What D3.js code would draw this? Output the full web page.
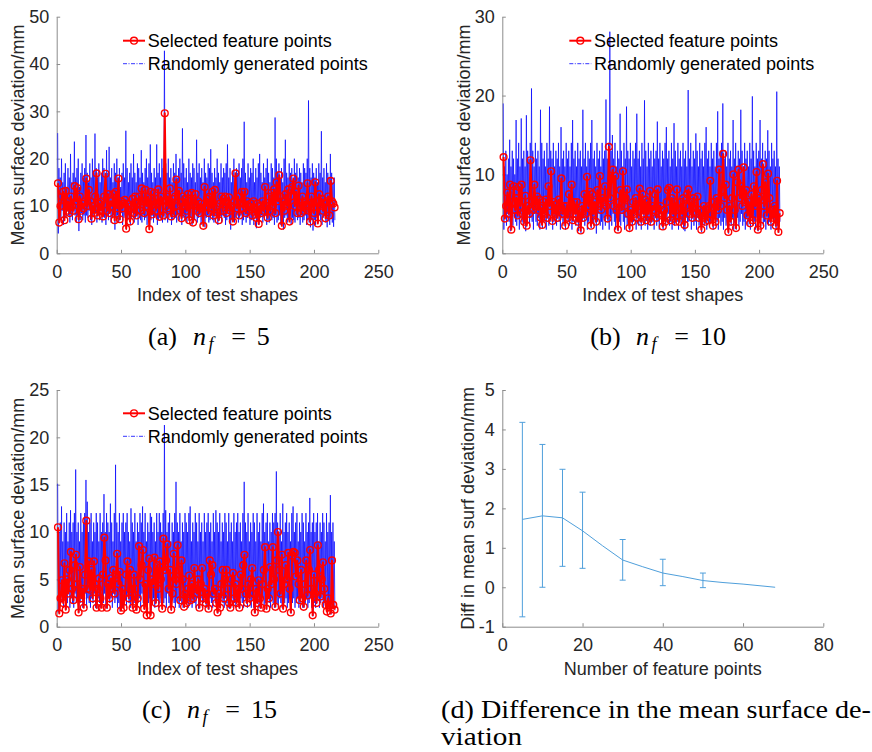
<!DOCTYPE html>
<html><head><meta charset="utf-8">
<script src="https://cdn.jsdelivr.net/npm/d3@7"></script>
<style>body{margin:0;background:#fff} svg{display:block}</style>
</head><body>
<svg id="chart" width="872" height="752"></svg>
<script>
// ---------- data ----------
const shapeTicks = [0, 50, 100, 150, 200, 250];
const yTicksA = [0, 10, 20, 30, 40, 50];
const yTicksB = [0, 10, 20, 30];
const yTicksC = [0, 5, 10, 15, 20, 25];
const yTicksD = [-1, 0, 1, 2, 3, 4, 5];
const xTicksD = [0, 20, 40, 60, 80];

const legendLabels = ["Selected feature points", "Randomly generated points"];

// (a) n_f = 5
const redA = [
14.8,6.5,10,12,13,7,13.2,9,11,8.5,12,10,9,14.2,11,13.8,7.2,12,9,10.5,
9.5,11,15.8,10,13.4,11,7.3,10,8.5,12,16.9,8,10.5,9,11,7.8,12,16.8,9,12.5,
8.5,11,10,12.5,7,13,9.5,15.8,7.2,11,9.5,10.5,11.3,5.2,10.5,9,6.7,10,11.5,8.5,
12,8,10.5,12,9,13.7,11,8.5,13.4,10,12,5.1,13,8.2,11,12.8,9,10.5,13.5,7.7,
12,11,8,29.6,10,12,9.5,13.7,7.8,11.5,8.5,12,15.6,10,13.2,9,7.4,12,10,11.5,
9,12.5,7,11,12.8,6.5,10,12.5,9,11,8.5,10.5,9.5,5.8,14,10,11.5,8.5,12,9.5,
13,8,13.4,10,8.5,7,10.5,12,9,11.5,12,8.5,10.5,11.8,9,10,6.7,11,16.9,9.5,
12,8,10.5,13,9.5,13,8.5,11,10,9,10.5,8,11,9.5,7.5,10.5,6.2,10,8.5,11,
9,14,10,7.5,12,9,12.8,10,13.5,8.5,15,11,16.5,12,5.8,11,9,12.5,10,13.5,
6.7,12,14,15.8,10,13,8.5,14.3,10,8.5,12,9,11,10,14.8,9,6.7,12,10.5,8.5,
15,11,6.3,12.5,10,11.5,9,10.5,7.4,11,12,8,15.3,11,10.5,9.7];
const blueHiA = [
25.4,18,16,20,15,17,19,14,18,16,21,15,17,23.6,16,18,20,14,17,19,
16,18,25,17,15,19,16,20,17,25.3,18,16,19,15,17,20,18,16,21.8,17,
22.5,16,18,15,19,17,20,16,18,14,17,19,16,25.9,18,15,17,19,16,21,
17,15,19,18,16,21.8,17,15,18,20,16,19,23,17,15,18,16,23,17,19,
16,20,18,42.8,19,17,20,16,18,15,19,17,21,16,18,20,17,26.4,19,16,
18,15,20,17,16,19,18,15,24,17,19,16,18,15,20,17,16,19,18,22,
17,15,18,16,20,17,15,19,16,18,17,19,23,16,18,15,17,20,16,18,
17,19,16,18,20,27.8,17,15,19,16,18,17,20,15,18,16,19,21,17,15,
19,16,18,20,17,15,19,18,16,28.7,20,17,19,16,18,15,20,24,17,16,
19,17,18,15,20,17,19,16,18,17,15,19,18,17,20,32.3,18,16,19,17,
16,18,15,19,17,25.8,16,18,15,19,17,16,21,17,15,16];
const blueLoA = [
4.2,8,7,9,6,8,7.5,9,8,6.5,8,7,9,8,6.5,8,4.7,7,8.5,7,
8,6.5,8,7.5,9,7,6,8,7.5,8.5,6.5,8,7,9,6.5,8,7.5,6,8,7,
8.5,6.5,7.5,8,5,7.5,8,6.5,7,8.5,6,7.5,8,5,7,8,6,7.5,8.5,6.5,
7.5,8,6,8.5,7,6.5,8,7,7.5,6,8,5.5,7,8,6.5,7.5,8,6,7,8.5,
7,6.5,8,7,8.5,6.5,7.5,8,6,7,8,7.5,6.5,8,7,8.5,6,7.5,8,7,
6.5,8,7,7.5,6,8,7,8.5,6.5,7.5,8,6,7,8,5.5,7.5,8,6.5,7,8,
7,6.5,8,7.5,6,7,8,6.5,8,7.5,6,7,8.5,6.5,5,7,8,6.5,7.5,8,
6.5,7.5,8,6,7,8,6.5,7.5,8,6,7,7.5,6,8,5.3,7,6,7.5,8,6.5,
7.5,8,6,7,6.5,8,7,7.5,6,8,6.5,7,8,6,7,5,7.5,8,6.5,7,
8,6,7.5,7,6.5,8,7,7.5,6,8,6.5,7,8,6,7,6.5,5.5,7,4.8,7,
6,7.5,6.5,8,7,6,7.5,8,6.5,5.5,7,6,7.5,6.5,5.6,7];

// (b) n_f = 10
const redB = [
12.2,4.4,6,7.7,5,8.7,3,6.5,8.5,5.5,7,4.8,8.4,6,8.7,5,4,7.3,3.5,6,
5,11.8,6.5,5.5,8.7,6,7.2,5.5,6.8,4.5,3.6,6.5,5,6.8,4.5,8.5,6,10.4,4.1,6.5,
5,6.2,4.5,6.8,5.5,9.5,5,6,3.5,6,4.5,7.5,5,8.7,4.2,6.5,5,6.5,4,5.5,
2.9,6,4.5,7.5,5,9.7,6,7.8,3.5,7.5,5,6.5,4,8,6,9.8,5.5,7,6.5,8.5,
6,4.4,13.5,7,9.5,10.6,6,9.8,5.5,3,6.5,8,5.5,10.4,6,7,8.1,5,3.2,5.5,
4,6.5,5,7,4.5,6,8.2,4,7.5,5,6.8,4.2,6.5,5,7.9,4,6,5.5,7.5,4.5,
8.1,5,6,4.8,3.4,5.5,4,6.5,8,8.3,4.2,7,5,6.5,4,8.1,5.5,4,6.5,5,
7,3.6,6,7.5,8.1,5,6.5,4.5,7,6,5,7.2,4.5,5.5,3,4.5,6,4,5.5,4.2,
6,9.2,5,3.5,6.5,4,7,5.5,10.6,6,8,12.6,7,8.7,5.5,2.7,6,4,7,10,
5.5,3.2,9,10.6,7,8.5,6,10.9,6.5,8,4.8,6.5,3.8,7.5,4.2,8.5,6,10.3,3,7,
3.5,8,11.3,6,9,4.8,10.1,7,4,5.5,4.5,6,3.5,9.2,2.7,5.1];
const blueHiB = [
19,11,13,10,12,14.4,11,13,12,10,16.9,12,14,11,17.1,12,13,11,17.5,13,
12,14,20.9,13,11,14,12,13,11,18.2,14,12,13,11,14,12,18.6,13,12,14,
11,13,12,14,11,16,12,13,11,14,12,13,11,14,16.9,12,13,11,14,12,
13,11,18.2,12,14,11,13,12,14,16.9,12,13,11,14,12,13,11,14,12,13,
19.5,12,14,28.1,13,15,12,14,11,13,12,17.7,13,11,14,12,18.6,13,12,14,
11,13,12,14,17.7,12,13,11,14,12,19.4,13,11,14,12,13,11,14,12,13,
16.7,12,14,11,13,12,14,16,12,13,11,14,12,16.5,13,11,14,12,13,11,
14,12,13,11,20.7,12,14,11,13,12,15.2,13,11,14,12,13,11,14,16,12,
13,11,14,12,13,11,14,18,12,13,14,19,12,13,11,14,12,13,11,16.9,
12,14,11,13,12,18.2,13,11,14,12,13,11,14,12,19.9,13,11,14,12,13,
16.9,12,14,11,13,12,15.6,13,11,14,12,13,11,20.5,12,11];
const blueLoB = [
3,4.5,3.5,5,4,2.8,4.5,3.5,5,4,3.5,4.5,3,5,4,3.5,4.5,2.8,4,5,
3.5,4.5,4,3,5,4,3.5,4.5,3,4,3.2,5,4,3,4.5,3.5,4,5,3,4,
4.5,3.5,5,4,3,4.5,3.5,4,3,5,4,3.5,4.5,3,4,5,3.5,4,2.8,4.5,
2.6,4,5,3.5,4.5,3,4,5,3.2,4,3.5,4.5,2.5,4,5,3.5,4,3,4.5,3.5,
5,4,3,4.5,3.5,5,4,3,4.5,2.8,4,3.5,5,4,3,4.5,3.5,4,2.9,4.5,
3.5,4,5,3,4.5,3.5,4,3,5,4,3.5,4.5,3,4,3.5,5,4,3,4.5,3.5,
4,3,5,3.5,3,4.5,3.5,4,5,3.5,4,3,4.5,3.5,5,4,3,4.5,3.5,4,
3,2.8,4.5,3.5,4,5,3,4.5,3.5,4,3,4.5,3.5,4,2.7,4.5,3.5,4,3,4.5,
3.5,4,5,3,4.5,3.5,4,3,4.5,3.5,4,3,4.5,3.5,4,2.5,4,3.5,4.5,3,
4,3,4.5,3.5,4,5,3.5,4,3,4.5,3.5,4,3,4.5,3.5,4,3,4.5,2.8,4,
3.2,4.5,3.5,4,3,4.5,3.5,4,3,4.5,3.5,4,3,3.5,2.6,4];

// (c) n_f = 15
const redC = [
10.5,1.4,3,4.9,2.5,6.7,1.8,5,3.5,6,7.9,4,2.8,6.5,7.6,4.5,1.5,6.3,3,4,
2,5.5,11.2,4,6.9,3.9,6,3,6.9,4.5,2,4,5.1,3,2,5.5,9.4,7,2,4.5,
3,5.1,4,6,3.5,5.5,7.7,4.5,5.8,1.7,4,2,3.5,5.5,6.9,3,6,4,2,5.5,
4,1.8,3,8.5,5,6.5,8.1,1.9,4.5,1.2,6,7.2,1.2,5,4.5,7.3,2.5,6.5,4,6.9,
5,1.9,9.3,6,7,8.7,4,6,1.8,3.5,7.7,5,4.5,8.6,6,2.8,7,5,2.1,3.5,
2.5,4,5.4,2.8,4.5,3,6.2,4,3.5,5,2,4.5,6.2,3,4,2.5,3.5,1.9,7,5.5,
6.5,3.5,4,2.5,1.5,3.5,2,4.5,6,3,5,6,4,2.5,2,5,5.7,3,4.5,2.5,
4,2,5.5,4,6.5,7.6,3.5,2.5,4.5,3,5,6.2,3.5,1.5,4,2.5,4.9,3,2,4.5,
6,8.4,1.9,4,3,6.3,4.5,8.4,5,2.1,7,10,6,3.5,7.6,1.9,4.5,6.5,5,7.8,
4,1.5,7.5,7.9,7.8,5.3,7,4.5,2.8,6,3,2.1,4.5,7,3.3,6,8.1,4,1.2,5.5,
3.5,2.5,8.6,6,3.2,5,6.8,4,2.3,1.6,3,2.2,1.4,7,2.3,1.8];
const blueHiC = [
15.1,10,11,12.7,9,11,10,12,9,11,12.3,10,11,12,16.6,10,11,9,12,10,
11,12,15.5,13.2,10,11,12,9,11,10,12,11,9,12,10,11,14,10,12,11,
10,13,11,9,12,17.1,11,10,12,9,11,12,10,11,12,10,9,12.5,11,10,
12,9,11,10,12,11,12.7,10,12,9,11,10,12,11.6,10,11,9,12,10,12,
11,10,12,21.3,12.3,10,11,12,9,11,10,12,15.3,11,10,12,9,11,10,12,
11,10,12,12.7,9,11,10,12,11,9,12,10,11,9,12,10,11,12,10,11,
9,12,10,12.3,11,10,12,9,11,10,12,11,9,12,10,11,9,12,10,11,
12,10,11,9,12,15.3,11,10,12,9,11,10,12,11,9,12,10,11,9,12,
13,10,11,12,9,11,10,12,11,12,16.4,11,10,12,9,13,10,11,12,10,
11,9,12,12.7,10,11,12,9,11,10,12,11,9,12,10,11,13.6,10,11,12,
10,11,12,9,11,10,12,11,9,12,10,11,13.9,10,11,9];
const blueLoC = [
1.5,3,2.5,3.5,2,3,1.8,2.5,3.5,2,3,2.5,2,3.5,2.5,3,1.5,2.5,3,2,
2.5,3.5,2,3,2.5,2,3,2.5,3.5,2,1.9,3,2.5,2,3,2.5,3.5,2,1.9,3,
2.5,3,2,3.5,2.5,3,2,2.5,1.6,3,2,2.5,3,2,3.5,2.5,2,3,1.9,2.5,
3,1.7,2.5,3,2,3.5,2.5,1.8,3,1.2,2.5,3,1.3,2.5,3,2,2.5,3,2,2.5,
3,1.8,2.5,3,2,3.5,2.5,2,1.7,3,2.5,2,3,2.5,2,3,2.5,2,2,3,
2.5,2,3,2.5,2,3,2.5,2,3,1.9,2.5,3,2,2.5,3,2,2.5,1.8,3,2.5,
2,3,2.5,2,1.4,2.5,2,3,2.5,2,3,2.5,2,1.9,2.5,3,2,2.5,2,3,
2.5,1.9,3,2.5,2,3,2.5,2,3,2.5,2,3,2,1.4,2.5,3,2,1.9,2.5,3,
2,2.5,1.8,3,2.5,2,3,2.5,2,3,2.5,2,3,2.5,2,1.8,2.5,3,2,2.5,
3,1.4,2.5,3,2,2.5,3,2,2.5,3,2,2,2.5,3,2,2.5,3,2,1.1,2.5,
2,2.5,3,2,2.5,3,2,2.5,2,1.5,2.5,2,1.3,2.5,2,1.7];

// (d) difference in mean surface deviation
const featureCounts = [5, 10, 15, 20, 30, 40, 50];
const diffMean  = [1.72, 1.81, 1.76, 1.43, 0.69, 0.36, 0.17];
const diffUpper = [4.18, 3.62, 2.99, 2.41, 1.21, 0.71, 0.36];
const diffLower = [-0.75, 0.0, 0.53, 0.48, 0.18, 0.04, -0.01];
const curveCounts = [5, 10, 15, 20, 25, 30, 35, 40, 45, 50, 55, 60, 68];
const curveMean   = [1.72, 1.81, 1.76, 1.43, 1.05, 0.69, 0.52, 0.36, 0.27, 0.17, 0.12, 0.08, 0.0];

// ---------- drawing ----------
const svg = d3.select("#chart");
const SANS = "'Liberation Sans', Arial, Helvetica, sans-serif";
const SERIF = "'Liberation Serif', 'Times New Roman', serif";
const AXIS_COL = "#8c8c8c", TEXT_COL = "#262626";
const RED = "#ff0000", BLUE = "#0000ff", EB = "#4f9fdb";

function axes(cfg) {
  const x = d3.scaleLinear().domain(cfg.xDomain).range([cfg.x0, cfg.x1]);
  const y = d3.scaleLinear().domain(cfg.yDomain).range([cfg.yBot, cfg.yTop]);
  const fmt = d => String(d);
  const gx = svg.append("g").attr("transform", `translate(0,${cfg.yBot})`)
    .call(d3.axisBottom(x).tickValues(cfg.xTicks).tickSize(-3.5).tickSizeOuter(0).tickPadding(11.5).tickFormat(fmt));
  const gy = svg.append("g").attr("transform", `translate(${cfg.x0},0)`)
    .call(d3.axisLeft(y).tickValues(cfg.yTicks).tickSize(-3.5).tickSizeOuter(0).tickPadding(7.5).tickFormat(fmt));
  [gx, gy].forEach(g => {
    g.attr("font-family", SANS).attr("font-size", 18);
    g.select(".domain").attr("stroke", AXIS_COL).attr("stroke-width", 1);
    g.selectAll(".tick line").attr("stroke", AXIS_COL);
    g.selectAll(".tick text").attr("fill", TEXT_COL);
  });
  svg.append("text").attr("x", (cfg.x0 + cfg.x1) / 2).attr("y", cfg.yBot + 48)
    .attr("text-anchor", "middle").attr("font-family", SANS).attr("font-size", 18)
    .attr("fill", TEXT_COL).text(cfg.xLabel);
  const cy = (cfg.yTop + cfg.yBot) / 2;
  svg.append("text").attr("transform", `translate(${cfg.ylabX},${cy}) rotate(-90)`)
    .attr("text-anchor", "middle").attr("font-family", SANS).attr("font-size", 18)
    .attr("fill", TEXT_COL).text(cfg.yLabel);
  return {x, y};
}

function scatterPanel(cfg) {
  const {x, y} = axes(cfg);
  // random points: dense line
  const pts = [];
  cfg.hi.forEach((v, i) => {
    pts.push([i + 1 - 0.25, v]);
    pts.push([i + 1 + 0.25, cfg.lo[i]]);
  });
  const line = d3.line().x(d => x(d[0])).y(d => y(d[1]));
  svg.append("path").datum(pts).attr("d", line).attr("fill", "none")
    .attr("stroke", BLUE).attr("stroke-width", 0.7);
  // selected feature points
  const rp = cfg.red.map((v, i) => [i + 1, v]);
  svg.append("path").datum(rp).attr("d", line).attr("fill", "none")
    .attr("stroke", RED).attr("stroke-width", 2).attr("stroke-linejoin", "round");
  svg.append("g").selectAll("circle").data(rp).join("circle")
    .attr("cx", d => x(d[0])).attr("cy", d => y(d[1])).attr("r", 3.4)
    .attr("fill", "none").attr("stroke", RED).attr("stroke-width", 1.4);
  // legend
  const lx = cfg.legX, ly1 = cfg.legY, ly2 = cfg.legY + 23;
  svg.append("line").attr("x1", lx).attr("x2", lx + 22).attr("y1", ly1).attr("y2", ly1)
    .attr("stroke", RED).attr("stroke-width", 2);
  svg.append("circle").attr("cx", lx + 11).attr("cy", ly1).attr("r", 3.4)
    .attr("fill", "none").attr("stroke", RED).attr("stroke-width", 1.4);
  svg.append("line").attr("x1", lx).attr("x2", lx + 22).attr("y1", ly2).attr("y2", ly2)
    .attr("stroke", BLUE).attr("stroke-width", 0.8).attr("stroke-dasharray", "4,1.5,1,1.5");
  [ly1, ly2].forEach((ly, k) => {
    svg.append("text").attr("x", lx + 24.7).attr("y", ly + 6.2)
      .attr("font-family", SANS).attr("font-size", 18).attr("fill", "#000").text(legendLabels[k]);
  });
}

const LEFT = [56.7, 378.3], RIGHT = [502.3, 823.3];
const TOP = [16.7, 253.3], BOT = [390, 626.7];

scatterPanel({x0: LEFT[0], x1: LEFT[1], yTop: TOP[0], yBot: TOP[1], xDomain: [0, 250], yDomain: [0, 50],
  xTicks: shapeTicks, yTicks: yTicksA, xLabel: "Index of test shapes", yLabel: "Mean surface deviation/mm",
  ylabX: 23.5, red: redA, hi: blueHiA, lo: blueLoA, legX: 123, legY: 40.7});
scatterPanel({x0: RIGHT[0], x1: RIGHT[1], yTop: TOP[0], yBot: TOP[1], xDomain: [0, 250], yDomain: [0, 30],
  xTicks: shapeTicks, yTicks: yTicksB, xLabel: "Index of test shapes", yLabel: "Mean surface deviation/mm",
  ylabX: 470, red: redB, hi: blueHiB, lo: blueLoB, legX: 569.3, legY: 40.7});
scatterPanel({x0: LEFT[0], x1: LEFT[1], yTop: BOT[0], yBot: BOT[1], xDomain: [0, 250], yDomain: [0, 25],
  xTicks: shapeTicks, yTicks: yTicksC, xLabel: "Index of test shapes", yLabel: "Mean surface deviation/mm",
  ylabX: 24, red: redC, hi: blueHiC, lo: blueLoC, legX: 123, legY: 413.3});

// panel d
(function () {
  const {x, y} = axes({x0: RIGHT[0], x1: RIGHT[1], yTop: BOT[0], yBot: BOT[1], xDomain: [0, 80], yDomain: [-1, 5],
    xTicks: xTicksD, yTicks: yTicksD, xLabel: "Number of feature points", yLabel: "Diff in mean surf deviation/mm",
    ylabX: 474});
  const line = d3.line().x((d, i) => x(curveCounts[i])).y(d => y(d));
  svg.append("path").datum(curveMean).attr("d", line).attr("fill", "none")
    .attr("stroke", EB).attr("stroke-width", 1);
  const g = svg.append("g").attr("stroke", EB).attr("stroke-width", 1);
  featureCounts.forEach((c, i) => {
    const cx = x(c);
    g.append("line").attr("x1", cx).attr("x2", cx).attr("y1", y(diffLower[i])).attr("y2", y(diffUpper[i]));
    [diffLower[i], diffUpper[i]].forEach(v => {
      g.append("line").attr("x1", cx - 3).attr("x2", cx + 3).attr("y1", y(v)).attr("y2", y(v));
    });
  });
})();

// captions
function caption(cx0, letter, num, base) {
  const g = svg.append("g").attr("font-family", SERIF).attr("fill", "#000").attr("text-anchor", "middle");
  g.append("text").attr("x", cx0).attr("y", base).attr("font-size", 26).text(`(${letter})`);
  g.append("text").attr("x", cx0 + 37).attr("y", base).attr("font-size", 26).attr("font-style", "italic").text("n");
  g.append("text").attr("x", cx0 + 48.5).attr("y", base + 5).attr("font-size", 18).attr("font-style", "italic").text("f");
  g.append("text").attr("x", cx0 + 76).attr("y", base).attr("font-size", 26).text("=");
  g.append("text").attr("x", cx0 + (num.length > 1 ? 107.5 : 100.8)).attr("y", base).attr("font-size", 26).text(num);
}
caption(162.5, "a", "5", 345);
caption(605.5, "b", "10", 345);
caption(156.5, "c", "15", 718);
svg.append("text").attr("x", 441).attr("y", 718).attr("font-family", SERIF).attr("font-size", 26)
  .attr("textLength", 430).attr("lengthAdjust", "spacingAndGlyphs").text("(d) Difference in the mean surface de-");
svg.append("text").attr("x", 441).attr("y", 745).attr("font-family", SERIF).attr("font-size", 25)
  .attr("textLength", 81).attr("lengthAdjust", "spacingAndGlyphs").text("viation");
</script>
</body></html>
